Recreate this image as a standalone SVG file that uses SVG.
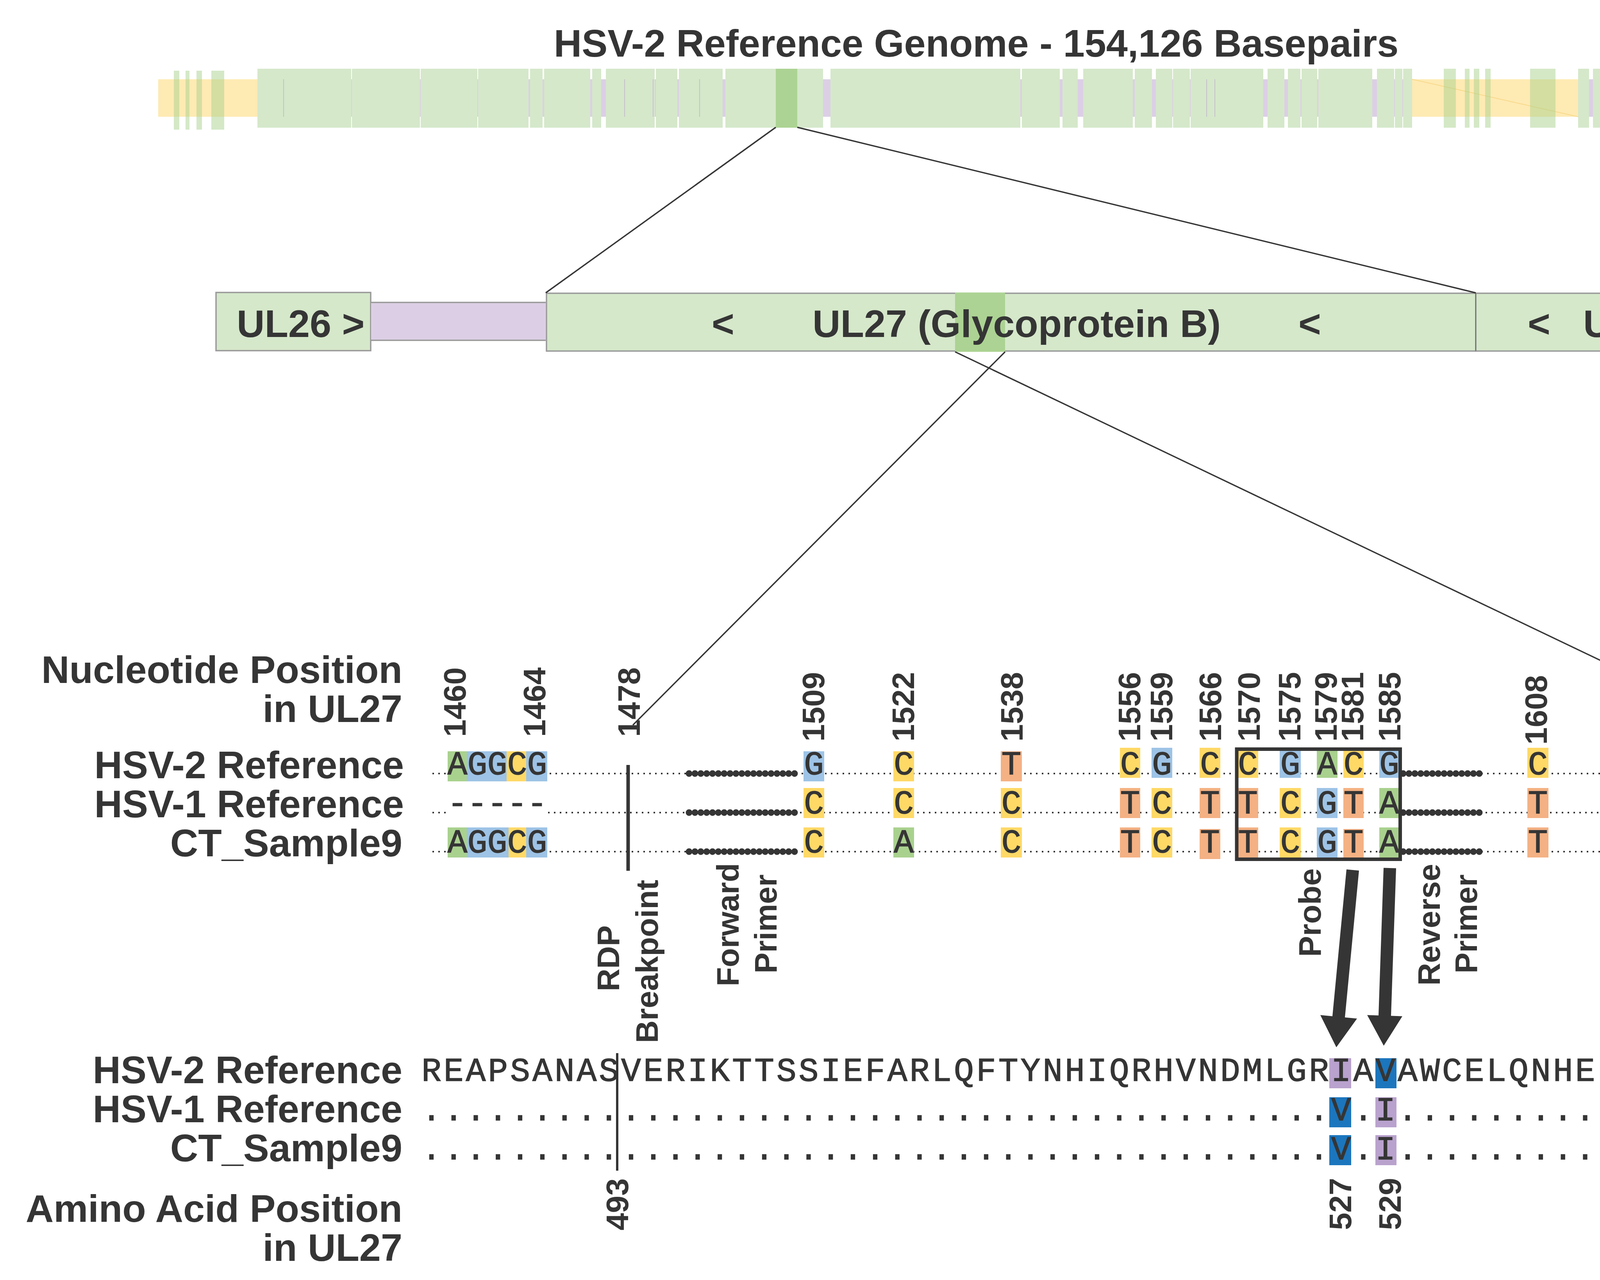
<svg xmlns="http://www.w3.org/2000/svg" width="4704" height="3278" viewBox="0 0 4704 3278">
<defs>
<style>
.t{font-family:"Liberation Sans",Arial,Helvetica,sans-serif;font-weight:bold;fill:#353535}
.big{font-size:99px}
.lab{font-size:80px}
.mono{font-family:"Liberation Mono","Courier New",monospace;font-size:85px;font-weight:normal;fill:#353535;stroke:#353535;stroke-width:1.5}
.dots{stroke:#353535;stroke-width:4;stroke-dasharray:4 11;fill:none}
.bead{stroke:#353535;stroke-width:17;stroke-linecap:round;stroke-dasharray:0 15;fill:none}
.A{fill:#a9d18e}.G{fill:#9dc3e6}.C{fill:#ffd966}.T{fill:#f4b183}
.aI{fill:#b9a2cd}.aV{fill:#1c76bd}
.gb{fill:#d5e8ca}
.gy{fill:#a9d18e;fill-opacity:.5}
.gl{stroke:#c6c0cc;stroke-width:2}
.box{fill:#d5e8ca;stroke:#9a9a9a;stroke-width:3.5}
.ln{stroke:#353535;stroke-width:3.5;fill:none}
.bp{stroke:#353535;stroke-width:9}
.bpa{stroke:#353535;stroke-width:6}
.arr{fill:#353535}
</style>
</defs>
<rect width="4704" height="3278" fill="#ffffff"/>

<g id="title">
<text class="t big" x="2499" y="145" text-anchor="middle">HSV-2 Reference Genome - 154,126 Basepairs</text>
</g>

<g id="genome">
<rect x="405" y="203" width="4203" height="96" fill="#feeab3"/>
<rect x="659" y="203" width="2956" height="96" fill="#dccfe5"/>
<rect x="4040" y="203" width="394" height="96" fill="#dccfe5"/>
<line x1="3615" y1="203" x2="4040" y2="299" stroke="#f7d98a" stroke-width="2"/>
<g class="gy">
<rect x="445" y="181" width="14" height="151"/>
<rect x="475" y="181" width="10" height="151"/>
<rect x="503" y="181" width="14" height="151"/>
<rect x="541" y="181" width="33" height="151"/>
<rect x="3696" y="176" width="31" height="151"/>
<rect x="3750" y="176" width="12" height="151"/>
<rect x="3773" y="176" width="14" height="151"/>
<rect x="3802" y="176" width="14" height="151"/>
<rect x="3917" y="176" width="65" height="151"/>
<rect x="4486" y="176" width="67" height="151"/>
</g>
<g class="gb">
<rect x="659" y="176" width="240" height="151"/>
<rect x="901" y="176" width="174" height="151"/>
<rect x="1077" y="176" width="145" height="151"/>
<rect x="1224" y="176" width="129" height="151"/>
<rect x="1357" y="176" width="32" height="151"/>
<rect x="1393" y="176" width="118" height="151"/>
<rect x="1516" y="176" width="23" height="151"/>
<rect x="1551" y="176" width="125" height="151"/>
<rect x="1679" y="176" width="55" height="151"/>
<rect x="1738" y="176" width="112" height="151"/>
<rect x="1857" y="176" width="250" height="151"/>
<rect x="2126" y="176" width="486" height="151"/>
<rect x="2616" y="176" width="97" height="151"/>
<rect x="2720" y="176" width="39" height="151"/>
<rect x="2773" y="176" width="127" height="151"/>
<rect x="2905" y="176" width="44" height="151"/>
<rect x="2959" y="176" width="42" height="151"/>
<rect x="3003" y="176" width="43" height="151"/>
<rect x="3048" y="176" width="186" height="151"/>
<rect x="3245" y="176" width="43" height="151"/>
<rect x="3297" y="176" width="32" height="151"/>
<rect x="3332" y="176" width="40" height="151"/>
<rect x="3375" y="176" width="138" height="151"/>
<rect x="3525" y="176" width="44" height="151"/>
<rect x="3571" y="176" width="19" height="151"/>
<rect x="3592" y="176" width="23" height="151"/>
<rect x="4040" y="176" width="28" height="151"/>
<rect x="4078" y="176" width="28" height="151"/>
<rect x="4110" y="176" width="104" height="151"/>
<rect x="4218" y="176" width="11" height="151"/>
<rect x="4235" y="176" width="35" height="151"/>
<rect x="4274" y="176" width="34" height="151"/>
<rect x="4315" y="176" width="67" height="151"/>
<rect x="4388" y="176" width="46" height="151"/>
</g>
<g class="gl">
<line x1="726" y1="203" x2="726" y2="299"/>
<line x1="1599" y1="203" x2="1599" y2="299"/>
<line x1="1672" y1="203" x2="1672" y2="299"/>
<line x1="1791" y1="203" x2="1791" y2="299"/>
<line x1="2003" y1="203" x2="2003" y2="299"/>
<line x1="3089" y1="203" x2="3089" y2="299"/>
<line x1="3110" y1="203" x2="3110" y2="299"/>
</g>
<rect x="1986" y="176" width="55" height="151" fill="#acd393"/>
</g>

<g id="gene-UL26">
<rect class="box" x="553" y="749" width="396" height="149"/>
<text class="t big" x="606" y="863">UL26 &gt;</text>
</g>
<g id="intergenic">
<rect x="950" y="775" width="447" height="96" fill="#dccfe5"/>
<line x1="950" y1="774.5" x2="1397" y2="774.5" stroke="#9a9a9a" stroke-width="3.5"/>
<line x1="950" y1="871.5" x2="1397" y2="871.5" stroke="#9a9a9a" stroke-width="3.5"/>
</g>
<g id="gene-UL27">
<rect class="box" x="1399" y="751" width="2379" height="148"/>
<rect x="2445" y="749" width="128" height="152" fill="#acd393"/>
<text class="t big" y="863"><tspan x="1822">&lt;</tspan><tspan x="2080">UL27 (Glycoprotein B)</tspan><tspan x="3324">&lt;</tspan></text>
</g>
<g id="gene-UL28">
<rect class="box" x="3778" y="751" width="674" height="148"/>
<line x1="3778" y1="751" x2="3778" y2="899" stroke="#6e6e6e" stroke-width="2"/>
<text class="t big" y="863"><tspan x="3911">&lt;</tspan><tspan x="4053">UL28</tspan></text>
</g>

<g id="connectors">
<line class="ln" x1="1986" y1="326" x2="1397" y2="750"/>
<line class="ln" x1="2041" y1="326" x2="3778" y2="750"/>
<line class="ln" x1="2573" y1="901" x2="1620" y2="1857"/>
<line class="ln" x1="2445" y1="901" x2="4381" y2="1827"/>
<path class="arr" d="M3447,2226.5 L3411,2602.5 L3380,2599.5 L3421,2682 L3474,2608.5 L3443,2605.5 L3479,2229.5 Z"/>
<path class="arr" d="M3542,2222.5 L3529,2600.5 L3500,2599.5 L3542.4,2678 L3590,2602.5 L3561,2601.5 L3574,2223.5 Z"/>
</g>

<g id="row-labels">
<text class="t big" x="1030" y="1749" text-anchor="end">Nucleotide Position</text>
<text class="t big" x="1030" y="1849" text-anchor="end">in UL27</text>
<text class="t big" x="1034" y="1993" text-anchor="end">HSV-2 Reference</text>
<text class="t big" x="1034" y="2093" text-anchor="end">HSV-1 Reference</text>
<text class="t big" x="1030" y="2193" text-anchor="end">CT_Sample9</text>
<text class="t big" x="1030" y="2774" text-anchor="end">HSV-2 Reference</text>
<text class="t big" x="1030" y="2874" text-anchor="end">HSV-1 Reference</text>
<text class="t big" x="1030" y="2974" text-anchor="end">CT_Sample9</text>
<text class="t big" x="1030" y="3129" text-anchor="end">Amino Acid Position</text>
<text class="t big" x="1030" y="3229" text-anchor="end">in UL27</text>
</g>

<g id="nt-positions" class="t lab">
<text transform="translate(1192,1887) rotate(-90)">1460</text>
<text transform="translate(1396,1887) rotate(-90)">1464</text>
<text transform="translate(1638,1887) rotate(-90)">1478</text>
<text transform="translate(2110,1899) rotate(-90)">1509</text>
<text transform="translate(2340,1899) rotate(-90)">1522</text>
<text transform="translate(2618,1899) rotate(-90)">1538</text>
<text transform="translate(2919,1899) rotate(-90)">1556</text>
<text transform="translate(3001,1899) rotate(-90)">1559</text>
<text transform="translate(3126,1899) rotate(-90)">1566</text>
<text transform="translate(3225,1899) rotate(-90)">1570</text>
<text transform="translate(3329,1899) rotate(-90)">1575</text>
<text transform="translate(3422,1899) rotate(-90)">1579</text>
<text transform="translate(3490,1899) rotate(-90)">1581</text>
<text transform="translate(3585,1899) rotate(-90)">1585</text>
<text transform="translate(3960,1907) rotate(-90)">1608</text>
<text transform="translate(4180,1907) rotate(-90)">1620</text>
<text transform="translate(4261,1907) rotate(-90)">1623</text>
<text transform="translate(4437,1907) rotate(-90)">1633</text>
<text transform="translate(4611,1907) rotate(-90)">1641</text>
</g>

<g id="nt-rows">
<line class="dots" x1="1107" y1="1981" x2="4557" y2="1981"/>
<line class="dots" x1="1107" y1="2081" x2="1143" y2="2081"/>
<line class="dots" x1="1403" y1="2081" x2="4557" y2="2081"/>
<line class="dots" x1="1107" y1="2181" x2="4557" y2="2181"/>
<line class="bead" x1="1764" y1="1981" x2="2049" y2="1981"/>
<line class="bead" x1="1764" y1="2081" x2="2049" y2="2081"/>
<line class="bead" x1="1764" y1="2181" x2="2049" y2="2181"/>
<line class="bead" x1="3592" y1="1981" x2="3802" y2="1981"/>
<line class="bead" x1="3592" y1="2081" x2="3802" y2="2081"/>
<line class="bead" x1="3592" y1="2181" x2="3802" y2="2181"/>

<g id="nt-1460-1464">
<rect class="A" x="1146" y="1924" width="49" height="77"/>
<rect class="G" x="1195" y="1924" width="102" height="77"/>
<rect class="C" x="1297" y="1924" width="50" height="77"/>
<rect class="G" x="1347" y="1924" width="54" height="77"/>
<rect class="A" x="1146" y="2119" width="49" height="77"/>
<rect class="G" x="1195" y="2119" width="107" height="77"/>
<rect class="C" x="1302" y="2119" width="45" height="77"/>
<rect class="G" x="1347" y="2119" width="54" height="77"/>
<text class="mono" y="1983" text-anchor="middle" x="1171 1222 1273 1324 1375">AGGCG</text>
<text class="mono" y="2083" text-anchor="middle" x="1171 1222 1273 1324 1375">-----</text>
<text class="mono" y="2183" text-anchor="middle" x="1171 1222 1273 1324 1375">AGGCG</text>
</g>

<g id="nt-1509">
<rect class="G" x="2057" y="1924" width="53" height="77"/><rect class="C" x="2057" y="2018" width="53" height="77"/><rect class="C" x="2057" y="2119" width="53" height="77"/>
<text class="mono" x="2083.5" text-anchor="middle"><tspan y="1983">G</tspan><tspan x="2083.5" y="2083">C</tspan><tspan x="2083.5" y="2183">C</tspan></text>
</g>
<g id="nt-1522">
<rect class="C" x="2287" y="1924" width="53" height="77"/><rect class="C" x="2287" y="2018" width="53" height="77"/><rect class="A" x="2287" y="2119" width="53" height="77"/>
<text class="mono" x="2313.5" text-anchor="middle"><tspan y="1983">C</tspan><tspan x="2313.5" y="2083">C</tspan><tspan x="2313.5" y="2183">A</tspan></text>
</g>
<g id="nt-1538">
<rect class="T" x="2562" y="1924" width="54" height="77"/><rect class="C" x="2562" y="2018" width="54" height="77"/><rect class="C" x="2562" y="2119" width="54" height="77"/>
<text class="mono" x="2589" text-anchor="middle"><tspan y="1983">T</tspan><tspan x="2589" y="2083">C</tspan><tspan x="2589" y="2183">C</tspan></text>
</g>
<g id="nt-1556">
<rect class="C" x="2867" y="1915" width="52" height="77"/><rect class="T" x="2867" y="2018" width="52" height="77"/><rect class="T" x="2867" y="2119" width="52" height="77"/>
<text class="mono" x="2893" text-anchor="middle"><tspan y="1983">C</tspan><tspan x="2893" y="2083">T</tspan><tspan x="2893" y="2183">T</tspan></text>
</g>
<g id="nt-1559">
<rect class="G" x="2948" y="1915" width="53" height="77"/><rect class="C" x="2948" y="2018" width="53" height="77"/><rect class="C" x="2948" y="2119" width="53" height="77"/>
<text class="mono" x="2974.5" text-anchor="middle"><tspan y="1983">G</tspan><tspan x="2974.5" y="2083">C</tspan><tspan x="2974.5" y="2183">C</tspan></text>
</g>
<g id="nt-1566">
<rect class="C" x="3071" y="1915" width="53" height="77"/><rect class="T" x="3071" y="2018" width="53" height="77"/><rect class="T" x="3071" y="2123" width="53" height="77"/>
<text class="mono" x="3097.5" text-anchor="middle"><tspan y="1983">C</tspan><tspan x="3097.5" y="2083">T</tspan><tspan x="3097.5" y="2183">T</tspan></text>
</g>
<g id="nt-1570">
<rect class="C" x="3168" y="1915" width="53" height="77"/><rect class="T" x="3168" y="2018" width="53" height="77"/><rect class="T" x="3168" y="2119" width="53" height="77"/>
<text class="mono" x="3194.5" text-anchor="middle"><tspan y="1983">C</tspan><tspan x="3194.5" y="2083">T</tspan><tspan x="3194.5" y="2183">T</tspan></text>
</g>
<g id="nt-1575">
<rect class="G" x="3276" y="1915" width="54" height="77"/><rect class="C" x="3276" y="2018" width="54" height="77"/><rect class="C" x="3276" y="2119" width="54" height="77"/>
<text class="mono" x="3303" text-anchor="middle"><tspan y="1983">G</tspan><tspan x="3303" y="2083">C</tspan><tspan x="3303" y="2183">C</tspan></text>
</g>
<g id="nt-1579">
<rect class="A" x="3371" y="1915" width="53" height="77"/><rect class="G" x="3371" y="2018" width="53" height="77"/><rect class="G" x="3371" y="2119" width="53" height="77"/>
<text class="mono" x="3397.5" text-anchor="middle"><tspan y="1983">A</tspan><tspan x="3397.5" y="2083">G</tspan><tspan x="3397.5" y="2183">G</tspan></text>
</g>
<g id="nt-1581">
<rect class="C" x="3439" y="1915" width="52" height="77"/><rect class="T" x="3439" y="2018" width="52" height="77"/><rect class="T" x="3439" y="2123" width="52" height="77"/>
<text class="mono" x="3465" text-anchor="middle"><tspan y="1983">C</tspan><tspan x="3465" y="2083">T</tspan><tspan x="3465" y="2183">T</tspan></text>
</g>
<g id="nt-1585">
<rect class="G" x="3531" y="1915" width="51" height="77"/><rect class="A" x="3531" y="2018" width="51" height="77"/><rect class="A" x="3531" y="2119" width="51" height="77"/>
<text class="mono" x="3556.5" text-anchor="middle"><tspan y="1983">G</tspan><tspan x="3556.5" y="2083">A</tspan><tspan x="3556.5" y="2183">A</tspan></text>
</g>
<g id="nt-1608">
<rect class="C" x="3910" y="1915" width="54" height="77"/><rect class="T" x="3910" y="2018" width="54" height="77"/><rect class="T" x="3910" y="2119" width="54" height="77"/>
<text class="mono" x="3937" text-anchor="middle"><tspan y="1983">C</tspan><tspan x="3937" y="2083">T</tspan><tspan x="3937" y="2183">T</tspan></text>
</g>
<g id="nt-1620">
<rect class="T" x="4127" y="1919" width="53" height="77"/><rect class="C" x="4127" y="2018" width="53" height="77"/><rect class="C" x="4127" y="2123" width="53" height="77"/>
<text class="mono" x="4153.5" text-anchor="middle"><tspan y="1983">T</tspan><tspan x="4153.5" y="2083">C</tspan><tspan x="4153.5" y="2183">C</tspan></text>
</g>
<g id="nt-1623">
<rect class="C" x="4208" y="1915" width="52" height="77"/><rect class="G" x="4208" y="2018" width="52" height="77"/><rect class="G" x="4208" y="2119" width="52" height="77"/>
<text class="mono" x="4234" text-anchor="middle"><tspan y="1983">C</tspan><tspan x="4234" y="2083">G</tspan><tspan x="4234" y="2183">G</tspan></text>
</g>
<g id="nt-1641">
<rect class="C" x="4557" y="1919" width="52" height="77"/><rect class="G" x="4557" y="2018" width="52" height="77"/><rect class="C" x="4557" y="2119" width="52" height="77"/>
<text class="mono" x="4583" text-anchor="middle"><tspan y="1983">C</tspan><tspan x="4583" y="2083">G</tspan><tspan x="4583" y="2183">C</tspan></text>
</g>
</g>

<g id="probe-box">
<rect x="3166" y="1918.5" width="418.5" height="282" fill="none" stroke="#353535" stroke-width="9"/>
</g>

<g id="rdp-lines">
<line class="bp" x1="1608" y1="1959" x2="1608" y2="2230"/>
<line class="bp" x1="4406" y1="1959" x2="4406" y2="2230"/>
<line class="bpa" x1="1580" y1="2697" x2="1580" y2="2998"/>
<line class="bpa" x1="4431" y1="2698" x2="4431" y2="2998"/>
</g>

<g id="annotation-labels" class="t lab" text-anchor="middle">
<text transform="translate(1585,2454) rotate(-90)">RDP</text>
<text transform="translate(1684,2462) rotate(-90)">Breakpoint</text>
<text transform="translate(1891,2368) rotate(-90)">Forward</text>
<text transform="translate(1988,2366) rotate(-90)">Primer</text>
<text transform="translate(3381,2337) rotate(-90)">Probe</text>
<text transform="translate(3686,2368) rotate(-90)">Reverse</text>
<text transform="translate(3781,2366) rotate(-90)">Primer</text>
<text transform="translate(4392,2461) rotate(-90)">RDP</text>
<text transform="translate(4491,2445) rotate(-90)">Breakpoint</text>
</g>

<g id="aa-rows">
<rect class="aI" x="3403" y="2710" width="56" height="77"/>
<rect class="aV" x="3521" y="2710" width="54" height="77"/>
<rect class="aV" x="3403" y="2810" width="56" height="77"/>
<rect class="aI" x="3521" y="2810" width="54" height="77"/>
<rect class="aV" x="3403" y="2907" width="56" height="77"/>
<rect class="aI" x="3521" y="2907" width="54" height="77"/>
<text class="mono" y="2768" text-anchor="middle" x="1104.4 1161.2 1218 1274.8 1331.6 1388.4 1445.2 1502 1558.8 1615.6 1672.4 1729.2 1786 1842.8 1899.6 1956.4 2013.2 2070 2126.8 2183.6 2240.4 2297.2 2354 2410.8 2467.6 2524.4 2581.2 2638 2694.8 2751.6 2808.4 2865.2 2922 2978.8 3035.6 3092.4 3149.2 3206 3262.8 3319.6 3376.4 3433.2 3490 3546.8 3603.6 3660.4 3717.2 3774 3830.8 3887.6 3944.4 4001.2 4058 4114.8 4171.6 4228.4 4285.2 4342 4398.8 4455.6 4512.4 4569.2">REAPSANASVERIKTTSSIEFARLQFTYNHIQRHVNDMLGRIAVAWCELQNHELTWNEARKL</text>
<text class="mono" y="2869" text-anchor="middle" x="1104.4 1161.2 1218 1274.8 1331.6 1388.4 1445.2 1502 1558.8 1615.6 1672.4 1729.2 1786 1842.8 1899.6 1956.4 2013.2 2070 2126.8 2183.6 2240.4 2297.2 2354 2410.8 2467.6 2524.4 2581.2 2638 2694.8 2751.6 2808.4 2865.2 2922 2978.8 3035.6 3092.4 3149.2 3206 3262.8 3319.6 3376.4 3433.2 3490 3546.8 3603.6 3660.4 3717.2 3774 3830.8 3887.6 3944.4 4001.2 4058 4114.8 4171.6 4228.4 4285.2 4342 4398.8 4455.6 4512.4 4569.2">.........................................V.I..................</text>
<text class="mono" y="2969" text-anchor="middle" x="1104.4 1161.2 1218 1274.8 1331.6 1388.4 1445.2 1502 1558.8 1615.6 1672.4 1729.2 1786 1842.8 1899.6 1956.4 2013.2 2070 2126.8 2183.6 2240.4 2297.2 2354 2410.8 2467.6 2524.4 2581.2 2638 2694.8 2751.6 2808.4 2865.2 2922 2978.8 3035.6 3092.4 3149.2 3206 3262.8 3319.6 3376.4 3433.2 3490 3546.8 3603.6 3660.4 3717.2 3774 3830.8 3887.6 3944.4 4001.2 4058 4114.8 4171.6 4228.4 4285.2 4342 4398.8 4455.6 4512.4 4569.2">.........................................V.I..................</text>
</g>

<g id="aa-positions" class="t lab">
<text transform="translate(1608,3151) rotate(-90)">493</text>
<text transform="translate(3459,3150) rotate(-90)">527</text>
<text transform="translate(3586,3150) rotate(-90)">529</text>
<text transform="translate(4455,3150) rotate(-90)">545</text>
</g>
</svg>
